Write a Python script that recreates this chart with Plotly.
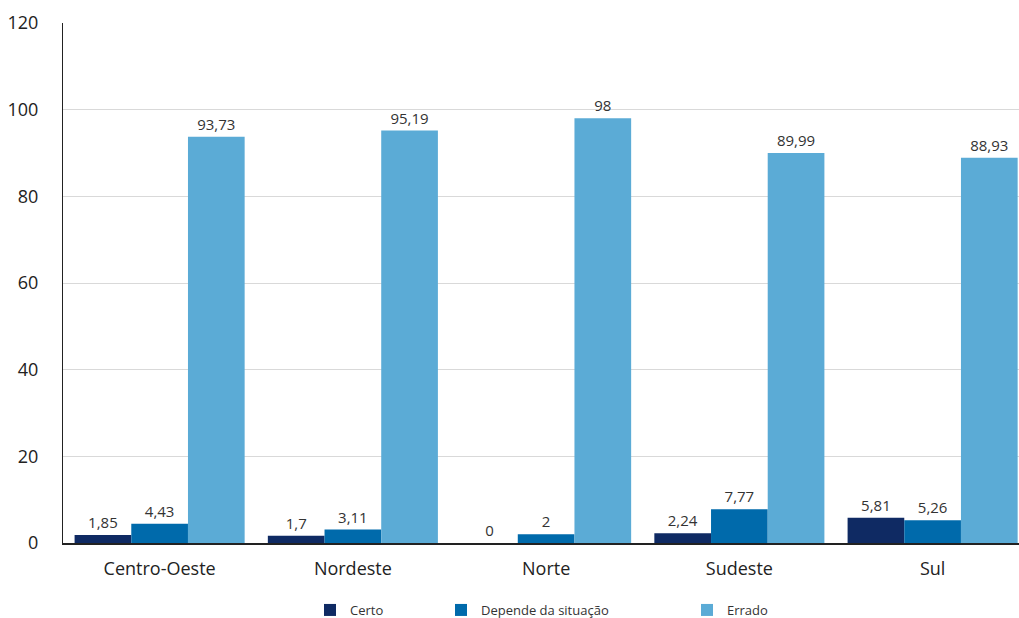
import plotly.graph_objects as go

categories = ["Centro-Oeste", "Nordeste", "Norte", "Sudeste", "Sul"]
certo = [1.85, 1.7, 0, 2.24, 5.81]
depende = [4.43, 3.11, 2, 7.77, 5.26]
errado = [93.73, 95.19, 98, 89.99, 88.93]
certo_lbl = ["1,85", "1,7", "0", "2,24", "5,81"]
depende_lbl = ["4,43", "3,11", "2", "7,77", "5,26"]
errado_lbl = ["93,73", "95,19", "98", "89,99", "88,93"]
y_ticks = [0, 20, 40, 60, 80, 100, 120]

series = [
    ("Certo", certo, certo_lbl, "#0f2a63", "legend"),
    ("Depende da situação", depende, depende_lbl, "#006aab", "legend2"),
    ("Errado", errado, errado_lbl, "#5babd6", "legend3"),
]

FONT = "Open Sans"
fig = go.Figure()
for name, vals, lbl, color, lg in series:
    fig.add_trace(go.Bar(
        name=name, x=categories, y=vals, text=lbl,
        textposition="outside", cliponaxis=False,
        textfont=dict(size=15, color="#333333", family=FONT),
        marker=dict(color=color, line=dict(width=0)),
        legend=lg, showlegend=True,
    ))

W, H = 1019, 618
ml, mr, mt = 63, 0, 23
ph = 520
mb = H - mt - ph
pw = W - ml - mr

def lx(marker_px):
    # screen x of legend symbol -> paper x of legend's left edge
    return (marker_px - 19 - ml) / pw

legend_common = dict(orientation="h", yref="container", yanchor="middle",
                     y=(H - 610) / H,
                     xanchor="left",
                     font=dict(size=13, color="#333333", family=FONT),
                     bgcolor="rgba(0,0,0,0)", itemwidth=30)

fig.update_layout(
    width=W, height=H,
    margin=dict(l=ml, r=mr, t=mt, b=mb, autoexpand=False),
    plot_bgcolor="white", paper_bgcolor="white",
    barmode="group", bargap=0.12, bargroupgap=0,
    font=dict(family=FONT, color="#222222"),
    showlegend=True,
    legend=dict(legend_common, x=lx(329)),
    legend2=dict(legend_common, x=lx(460)),
    legend3=dict(legend_common, x=lx(706)),
    xaxis=dict(
        range=[-0.5, 4.447],
        showline=True, linecolor="#222222", linewidth=1.5,
        tickfont=dict(size=18, color="#222222", family=FONT),
        ticks="", showgrid=False, ticklabelstandoff=9,
    ),
    yaxis=dict(
        range=[0, 120], tickvals=y_ticks,
        showline=True, linecolor="#222222", linewidth=1.2,
        showgrid=True, gridcolor="#d9d9d9", gridwidth=1,
        zeroline=False,
        tickfont=dict(size=18, color="#222222", family=FONT),
        ticks="", ticklabelstandoff=20,
    ),
)

fig.write_html(
    "out.html",
    config={"displayModeBar": False},
    post_script="document.body.style.margin='0';document.body.style.overflow='hidden';",
)
